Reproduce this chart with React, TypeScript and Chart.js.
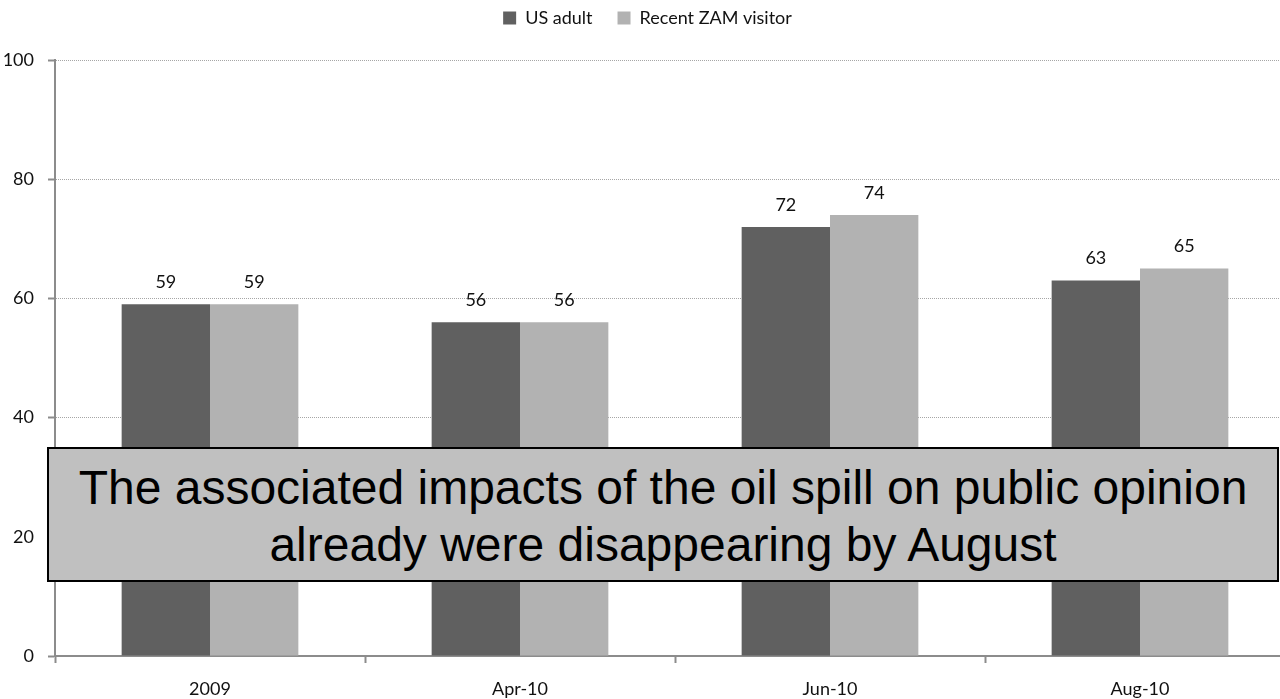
import React, { useEffect, useRef } from 'react';
import { Chart, registerables } from 'chart.js';

Chart.register(...registerables);

// Share of respondents, by survey wave
const categories = ['2009', 'Apr-10', 'Jun-10', 'Aug-10'];
const usAdult = [59, 56, 72, 63];
const recentZamVisitor = [59, 56, 74, 65];
const seriesNames = ['US adult', 'Recent ZAM visitor'];
const seriesColors = ['#606060', '#b2b2b2'];

const yMin = 0;
const yMax = 100;
const yStep = 20;

const noteLines = [
  'The associated impacts of the oil spill on public opinion',
  'already were disappearing by August',
];

const FONT = 'Lato';
const TEXT = '#111111';
const AXIS = '#8c8c8c';

// Writes each bar's value just above it.
const valueLabels = {
  id: 'valueLabels',
  afterDatasetsDraw(chart: any) {
    const { ctx } = chart;
    ctx.save();
    ctx.font = `18px ${FONT}`;
    ctx.fillStyle = TEXT;
    ctx.textAlign = 'center';
    ctx.textBaseline = 'middle';
    chart.data.datasets.forEach((ds: any, i: number) => {
      chart.getDatasetMeta(i).data.forEach((bar: any, j: number) => {
        ctx.fillText(String(ds.data[j]), bar.x, bar.y - 22);
      });
    });
    ctx.restore();
  },
};

// Leaves room between the legend and the plot.
const legendSpacer = {
  id: 'legendSpacer',
  beforeInit(chart: any) {
    const legend = chart.legend;
    if (!legend) return;
    const fit = legend.fit;
    legend.fit = function () {
      fit.call(this);
      this.height += 23;
    };
  },
};

export default function App() {
  const canvasRef = useRef<HTMLCanvasElement | null>(null);

  useEffect(() => {
    const canvas = canvasRef.current;
    if (!canvas) return;
    const chart = new Chart(canvas, {
      type: 'bar',
      data: {
        labels: categories,
        datasets: [
          {
            label: seriesNames[0],
            data: usAdult,
            backgroundColor: seriesColors[0],
            borderWidth: 0,
            categoryPercentage: 0.57,
            barPercentage: 1.0,
          },
          {
            label: seriesNames[1],
            data: recentZamVisitor,
            backgroundColor: seriesColors[1],
            borderWidth: 0,
            categoryPercentage: 0.57,
            barPercentage: 1.0,
          },
        ],
      },
      options: {
        responsive: false,
        animation: false,
        events: [],
        layout: { padding: { top: -16, left: 0, right: 5, bottom: 0 } },
        plugins: {
          tooltip: { enabled: false },
          legend: {
            display: true,
            position: 'top',
            labels: {
              boxWidth: 13,
              boxHeight: 13,
              padding: 25,
              color: TEXT,
              font: { family: FONT, size: 18 },
            },
          },
        },
        scales: {
          x: {
            offset: true,
            grid: {
              display: true,
              offset: true,
              drawOnChartArea: false,
              drawTicks: true,
              tickLength: 7,
              tickColor: AXIS,
              tickWidth: 2,
              color: AXIS,
            },
            border: { display: true, color: AXIS, width: 2 },
            ticks: {
              color: TEXT,
              font: { family: FONT, size: 18 },
              padding: 15,
              maxRotation: 0,
            },
            afterFit(scale: any) {
              scale.height = 43;
            },
          },
          y: {
            min: yMin,
            max: yMax,
            ticks: {
              stepSize: yStep,
              color: TEXT,
              font: { family: FONT, size: 18 },
              padding: 14,
            },
            grid: {
              color: '#a6a6a6',
              lineWidth: 1,
              drawTicks: true,
              tickLength: 7,
              tickColor: AXIS,
              tickWidth: 2,
              tickBorderDash: [],
            },
            border: { display: true, color: AXIS, width: 2, dash: [1, 1] },
            afterFit(scale: any) {
              scale.width = 55;
            },
          },
        },
      },
      plugins: [valueLabels, legendSpacer],
    } as any);
    return () => chart.destroy();
  }, []);

  return (
    <div
      style={{
        position: 'fixed',
        left: 0,
        top: 0,
        width: 1280,
        height: 699,
        overflow: 'hidden',
        background: '#ffffff',
      }}
    >
      <canvas
        ref={canvasRef}
        width={1300}
        height={699}
        style={{ position: 'absolute', left: 0, top: 0, width: 1300, height: 699 }}
      />
      <div
        style={{
          position: 'absolute',
          left: 47,
          top: 447,
          width: 1232,
          height: 135,
          boxSizing: 'border-box',
          border: '2px solid #000000',
          background: '#c0c0c0',
          fontFamily: '"Liberation Sans", Arial, sans-serif',
          fontSize: 48,
          lineHeight: '57px',
          textAlign: 'center',
          color: '#000000',
          paddingTop: 10,
          whiteSpace: 'nowrap',
        }}
      >
        {noteLines.map((line) => (
          <div key={line}>{line}</div>
        ))}
      </div>
    </div>
  );
}
